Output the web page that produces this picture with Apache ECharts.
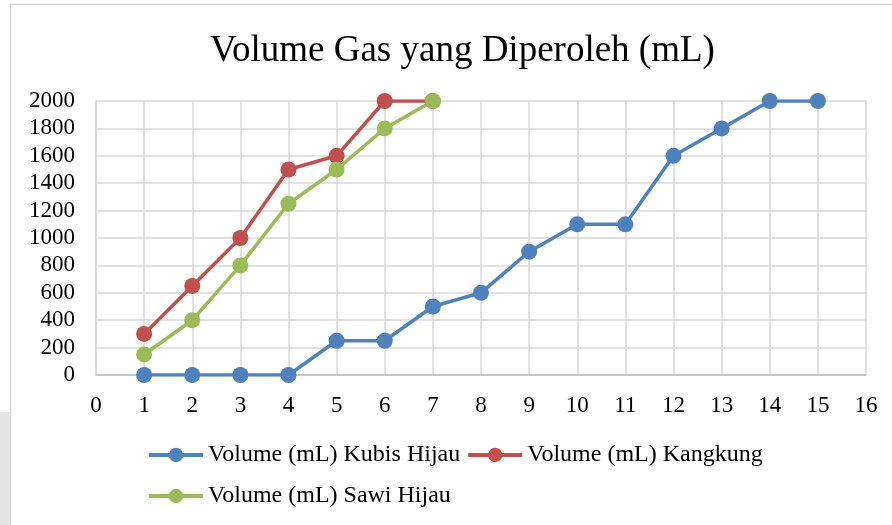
<!DOCTYPE html>
<html>
<head>
<meta charset="utf-8">
<script src="https://cdn.jsdelivr.net/npm/echarts@6/dist/echarts.min.js"></script>
<style>
  html, body { margin: 0; padding: 0; background: #fff; }
  #chart { width: 892px; height: 525px; }
</style>
</head>
<body>
<div id="chart"></div>
<script>
// data
var xKubis = [1, 2, 3, 4, 5, 6, 7, 8, 9, 10, 11, 12, 13, 14, 15];
var kubisHijau = [0, 0, 0, 0, 250, 250, 500, 600, 900, 1100, 1100, 1600, 1800, 2000, 2000];
var xKangkung = [1, 2, 3, 4, 5, 6, 7];
var kangkung = [300, 650, 1000, 1500, 1600, 2000, 2000];
var xSawi = [1, 2, 3, 4, 5, 6, 7];
var sawiHijau = [150, 400, 800, 1250, 1500, 1800, 2000];

var names = ['Volume (mL) Kubis Hijau', 'Volume (mL) Kangkung', 'Volume (mL) Sawi Hijau'];
var colors = ['#4F81BD', '#C0504D', '#9BBB59'];
var font = '"Liberation Serif", "Times New Roman", serif';

function pairs(xs, ys) {
  var out = [];
  for (var i = 0; i < xs.length; i++) out.push([xs[i], ys[i]]);
  return out;
}

function lineSeries(name, color, data) {
  return {
    name: name,
    type: 'line',
    data: data,
    symbol: 'circle',
    symbolSize: 16,
    color: color,
    lineStyle: { width: 3.5, color: color },
    itemStyle: { color: color },
    animation: false
  };
}

var legendBase = {
  left: 147,
  padding: 0,
  itemWidth: 54,
  itemHeight: 18,
  itemGap: 6,
  lineStyle: { width: 4 },
  textStyle: { fontFamily: font, fontSize: 24, color: '#000' }
};

var chart = echarts.init(document.getElementById('chart'));
chart.setOption({
  backgroundColor: '#fff',
  title: {
    text: 'Volume Gas yang Diperoleh (mL)',
    left: 205,
    top: 28,
    textStyle: { fontFamily: font, fontSize: 37, fontWeight: 'normal', color: '#000' }
  },
  legend: [
    Object.assign({}, legendBase, { top: 443, data: [names[0], names[1]] }),
    Object.assign({}, legendBase, { top: 484, data: [names[2]] })
  ],
  grid: { left: 96, right: 26, top: 101, bottom: 150 },
  xAxis: {
    type: 'value',
    min: 0,
    max: 16,
    interval: 1,
    axisLine: { show: true, lineStyle: { color: '#BFBFBF', width: 1.5 } },
    axisTick: { show: false },
    splitLine: { show: true, lineStyle: { color: '#D9D9D9', width: 1.5 } },
    axisLabel: { fontFamily: font, fontSize: 23, color: '#000', margin: 19 }
  },
  yAxis: {
    type: 'value',
    min: 0,
    max: 2000,
    interval: 200,
    axisLine: { show: true, lineStyle: { color: '#D9D9D9', width: 1.5 } },
    axisTick: { show: false },
    splitLine: { show: true, lineStyle: { color: '#D9D9D9', width: 1.5 } },
    axisLabel: {
      fontFamily: font, fontSize: 23, color: '#000', margin: 21,
      formatter: function (v) { return String(v); }
    }
  },
  graphic: [
    {
      type: 'rect',
      shape: { x: 10.5, y: 4.5, width: 900, height: 540 },
      style: { fill: 'none', stroke: '#D9D9D9', lineWidth: 1.5 },
      silent: true
    },
    {
      type: 'rect',
      shape: { x: 0, y: 412, width: 10, height: 113 },
      style: { fill: '#E4E4E4' },
      silent: true
    }
  ],
  series: [
    lineSeries(names[0], colors[0], pairs(xKubis, kubisHijau)),
    lineSeries(names[1], colors[1], pairs(xKangkung, kangkung)),
    lineSeries(names[2], colors[2], pairs(xSawi, sawiHijau))
  ]
});
</script>
</body>
</html>
